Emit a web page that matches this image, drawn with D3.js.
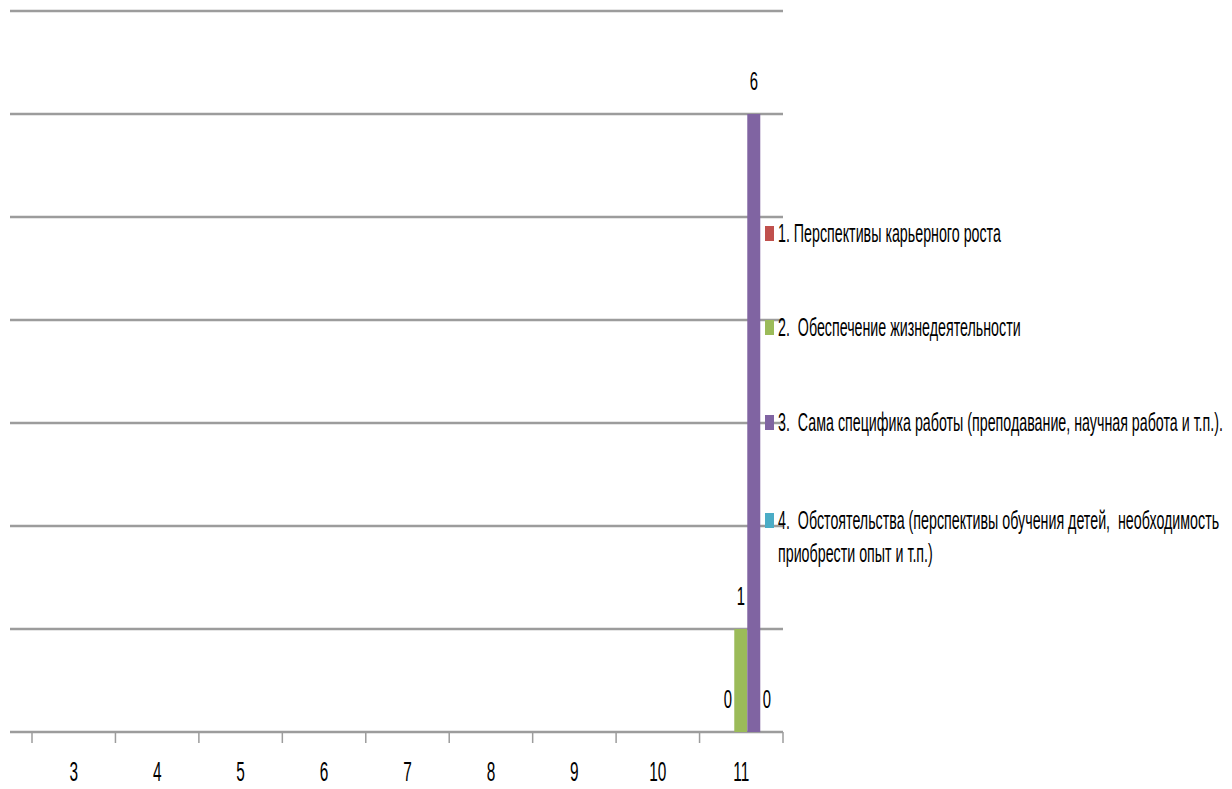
<!DOCTYPE html>
<html>
<head>
<meta charset="utf-8">
<script src="https://cdn.jsdelivr.net/npm/d3@7"></script>
<style>
  html, body { margin: 0; padding: 0; background: #fff; }
  svg text { font-family: "Liberation Sans", Arial, sans-serif; fill: #000; }
</style>
</head>
<body>
<svg id="chart" width="1232" height="789"></svg>
<script>
// ---- data ----
const categories = ["3", "4", "5", "6", "7", "8", "9", "10", "11"];
const seriesNames = [
  "1. Перспективы карьерного роста",
  "2.  Обеспечение жизнедеятельности",
  "3.  Сама специфика работы (преподавание, научная работа и т.п.).",
  "4.  Обстоятельства (перспективы обучения детей,  необходимость|приобрести опыт и т.п.)"
];
const series1 = [null, null, null, null, null, null, null, null, 0];
const series2 = [null, null, null, null, null, null, null, null, 1];
const series3 = [null, null, null, null, null, null, null, null, 6];
const series4 = [null, null, null, null, null, null, null, null, 0];
const yTicks = [0, 1, 2, 3, 4, 5, 6, 7];

const colors = ["#C0504D", "#9BBB59", "#8064A2", "#4BACC6"];
const allSeries = [series1, series2, series3, series4];

// ---- layout ----
const svg = d3.select("#chart");
const plotLeft = 10, plotRight = 783, catLeft = 32;
const yTop = 11, yBottom = 732;

const x0 = d3.scaleBand().domain(categories).range([catLeft, plotRight]).padding(0);
const groupW = 52;
const x1 = d3.scaleBand().domain(d3.range(4)).range([0, groupW]).padding(0);
const groupShift = 6;
const y = d3.scaleLinear().domain([0, 7]).range([yBottom, yTop]);

// gridlines
svg.append("g").selectAll("line").data(yTicks.filter(d => d > 0)).join("line")
  .attr("x1", plotLeft).attr("x2", plotRight)
  .attr("y1", d => y(d)).attr("y2", d => y(d))
  .attr("stroke", "#9c9c9c").attr("stroke-width", 2.6);

// x axis
const xAxis = d3.axisBottom(x0).tickSize(10).tickFormat("");
const gx = svg.append("g").attr("transform", `translate(0,${yBottom})`).call(xAxis);
gx.select(".domain").remove();
gx.selectAll(".tick line").remove();
gx.append("line").attr("x1", plotLeft).attr("x2", plotRight).attr("y1", 0).attr("y2", 0)
  .attr("stroke", "#9c9c9c").attr("stroke-width", 2.6);
// tick marks at band boundaries
const bounds = categories.map(c => x0(c)).concat([x0(categories[categories.length - 1]) + x0.bandwidth()]);
gx.selectAll("line.tk").data(bounds).join("line").attr("class", "tk")
  .attr("x1", d => d).attr("x2", d => d).attr("y1", 0).attr("y2", 11)
  .attr("stroke", "#9c9c9c").attr("stroke-width", 1.5);

// measure horizontal squeeze factor for the narrow look
const probe = svg.append("text").attr("font-size", 25).text(seriesNames[0]);
const sx = 223 / probe.node().getComputedTextLength();
probe.remove();

// category labels
svg.append("g").selectAll("text").data(categories).join("text")
  .attr("transform", d => `translate(${x0(d) + x0.bandwidth() / 2},${781}) scale(${sx},1)`)
  .attr("text-anchor", "middle").attr("font-size", 27).text(d => d);

// bars
const bars = [];
allSeries.forEach((s, si) => s.forEach((v, ci) => {
  if (v !== null) bars.push({ si, cat: categories[ci], v });
}));
const gxPos = d => x0(d.cat) + (x0.bandwidth() - groupW) / 2 + groupShift + x1(d.si);
svg.append("g").selectAll("rect").data(bars).join("rect")
  .attr("x", gxPos).attr("width", x1.bandwidth())
  .attr("y", d => y(d.v)).attr("height", d => y(0) - y(d.v))
  .attr("fill", d => colors[d.si]);

// value labels
svg.append("g").selectAll("text").data(bars).join("text")
  .attr("transform", d => `translate(${gxPos(d) + x1.bandwidth() / 2},${y(d.v) - 24}) scale(${sx},1)`)
  .attr("text-anchor", "middle").attr("font-size", 26).text(d => d.v);

// legend
const legendBase = [242, 336, 431, 529];
const lg = svg.append("g");
seriesNames.forEach((name, i) => {
  const b = legendBase[i];
  lg.append("rect").attr("x", 765).attr("y", b - 16).attr("width", 9).attr("height", 15)
    .attr("fill", colors[i]);
  name.split("|").forEach((line, li) => {
    lg.append("text")
      .attr("transform", `translate(778,${b + li * 33}) scale(${sx},1)`)
      .attr("font-size", 25).attr("xml:space", "preserve").style("white-space", "pre")
      .text(line);
  });
});
</script>
</body>
</html>
